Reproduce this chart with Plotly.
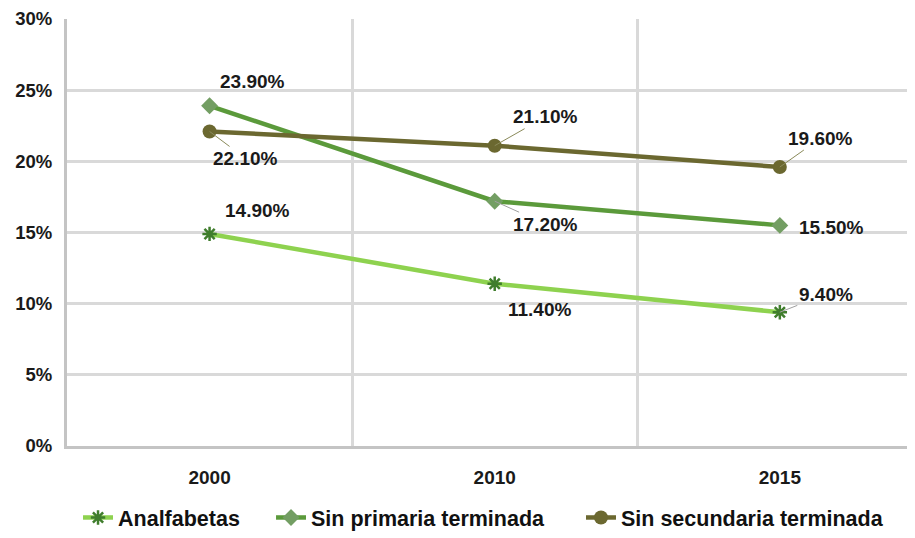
import plotly.graph_objects as go

years = ["2000", "2010", "2015"]
analfabetas = [14.9, 11.4, 9.4]
sin_primaria = [23.9, 17.2, 15.5]
sin_secundaria = [22.1, 21.1, 19.6]
series_names = ["Analfabetas", "Sin primaria terminada", "Sin secundaria terminada"]
y_ticks = [0, 5, 10, 15, 20, 25, 30]

xs = list(range(len(years)))
FONT = "Arial, Liberation Sans, sans-serif"

fig = go.Figure()
fig.add_trace(go.Scatter(
    x=xs, y=analfabetas, name=series_names[0], mode="lines+markers",
    line=dict(color="#8ed24f", width=4.5),
    marker=dict(symbol="asterisk-open", size=12, color="#3f7d2c",
                line=dict(color="#3f7d2c", width=2.5)),
    legend="legend",
))
fig.add_trace(go.Scatter(
    x=xs, y=sin_primaria, name=series_names[1], mode="lines+markers",
    line=dict(color="#5b9a3b", width=4.5),
    marker=dict(symbol="diamond", size=13, color="#739e63"),
    legend="legend2",
))
fig.add_trace(go.Scatter(
    x=xs, y=sin_secundaria, name=series_names[2], mode="lines+markers",
    line=dict(color="#6b6830", width=4.5),
    marker=dict(symbol="circle", size=14, color="#6b6830"),
    legend="legend3",
))

# label offsets (pixels) and whether a leader line is drawn
label_specs = [
    (analfabetas, [(48, -23, False), (45, 26, False), (46, -18, True)], "#a0a0a0"),
    (sin_primaria, [(43, -24, False), (51, 23, True), (52, 2, False)], "#a0a0a0"),
    (sin_secundaria, [(36, 27, True), (51, -29, True), (41, -29, True)], "#8a8a5a"),
]
for values, offs, lcol in label_specs:
    for i, (v, (dx, dy, leader)) in enumerate(zip(values, offs)):
        fig.add_annotation(
            x=xs[i], y=v, text=f"{v:.2f}%", showarrow=True,
            ax=dx, ay=dy, axref="pixel", ayref="pixel",
            arrowhead=0, arrowwidth=1 if leader else 0.1,
            arrowcolor=lcol if leader else "rgba(0,0,0,0)",
            font=dict(family=FONT, size=19, color="#1a1a1a", weight="bold"),
        )

PLOT_H = 434
legend_font = dict(family=FONT, size=21.5, color="#111111", weight="bold")
def leg(x):
    return dict(orientation="h", x=x, xanchor="left", y=-73 / PLOT_H, yanchor="middle",
                font=legend_font, bgcolor="rgba(0,0,0,0)")

fig.update_layout(
    width=907, height=530,
    margin=dict(l=59, r=0, t=11, b=85),
    paper_bgcolor="white", plot_bgcolor="white",
    showlegend=True,
    legend=leg(0.0130), legend2=leg(0.2406), legend3=leg(0.6061),
    font=dict(family=FONT),
)
fig.update_xaxes(
    range=[-0.5, 2.474], tickmode="array", tickvals=xs, ticktext=years,
    showgrid=False, showline=True, linecolor="#c4c4c4", linewidth=3,
    ticks="", ticklabelstandoff=12, zeroline=False, automargin=False,
    ticklabeloverflow="allow",
    tickfont=dict(family=FONT, size=19, color="#1a1a1a", weight="bold"),
    minor=dict(tickmode="array", tickvals=[0.5, 1.5], showgrid=True,
               gridcolor="#d9d9d9", gridwidth=3, ticks=""),
)
fig.update_yaxes(
    range=[0, 30], tickmode="array", tickvals=y_ticks,
    ticktext=[f"{t}%" for t in y_ticks],
    showgrid=True, gridcolor="#d9d9d9", gridwidth=3,
    showline=True, linecolor="#c4c4c4", linewidth=3, zeroline=False,
    ticks="", ticklabelstandoff=8, automargin=False,
    ticklabeloverflow="allow",
    tickfont=dict(family=FONT, size=18.5, color="#1a1a1a", weight="bold"),
)

fig.write_html("out.html")
